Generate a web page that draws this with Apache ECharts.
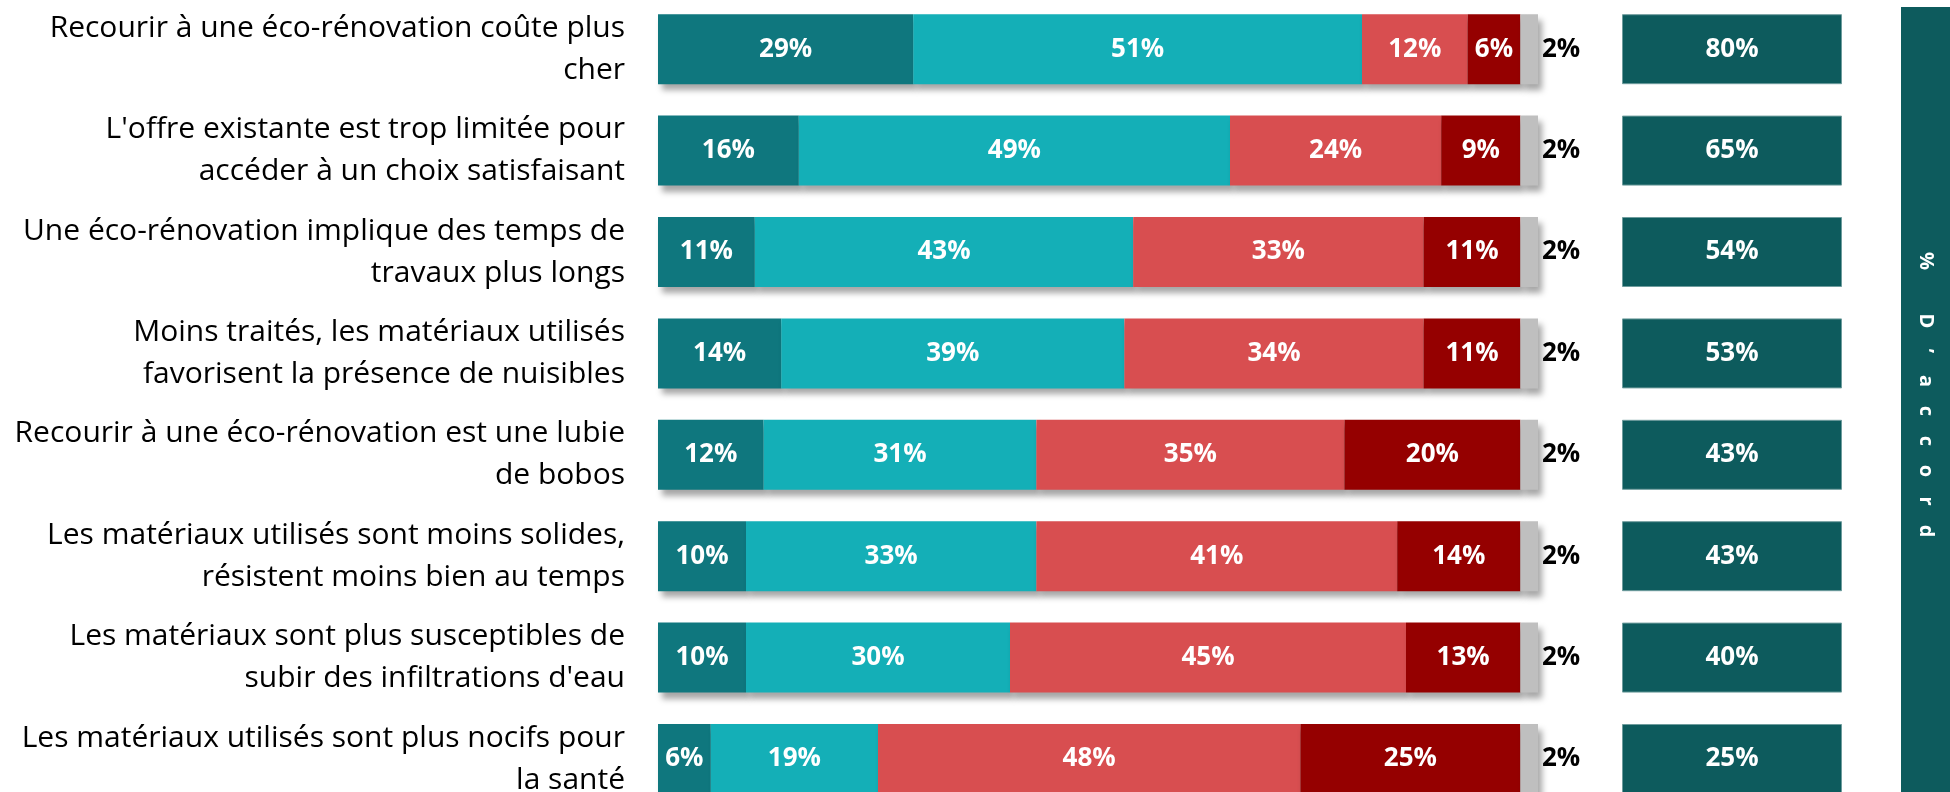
<!DOCTYPE html>
<html>
<head>
<meta charset="utf-8">
<script src="https://cdn.jsdelivr.net/npm/echarts@6/dist/echarts.min.js"></script>
<style>
  html, body { margin: 0; padding: 0; background: #ffffff; }
  #chart { width: 1950px; height: 792px; }
</style>
</head>
<body>
<div id="chart"></div>
<script>
const categories = [
  "Recourir à une éco-rénovation coûte plus\ncher",
  "L'offre existante est trop limitée pour\naccéder à un choix satisfaisant",
  "Une éco-rénovation implique des temps de\ntravaux plus longs",
  "Moins traités, les matériaux utilisés\nfavorisent la présence de nuisibles",
  "Recourir à une éco-rénovation est une lubie\nde bobos",
  "Les matériaux utilisés sont moins solides,\nrésistent moins bien au temps",
  "Les matériaux sont plus susceptibles de\nsubir des infiltrations d'eau",
  "Les matériaux utilisés sont plus nocifs pour\nla santé"
];
const toutAFait   = [29, 16, 11, 14, 12, 10, 10, 6];
const plutot      = [51, 49, 43, 39, 31, 33, 30, 19];
const plutotPas   = [12, 24, 33, 34, 35, 41, 45, 48];
const pasDuTout   = [6, 9, 11, 11, 20, 14, 13, 25];
const nsp         = [2, 2, 2, 2, 2, 2, 2, 2];
const totalAccord = [80, 65, 54, 53, 43, 43, 40, 25];
const bannerText  = "% D’accord";

const colors = ['#0F777E', '#14AFB7', '#D84E50', '#950000', '#BFBFBF'];
const FONT = '"Open Sans", sans-serif';

const shadow = {
  shadowColor: 'rgba(0,0,0,0.35)',
  shadowBlur: 6,
  shadowOffsetX: 4,
  shadowOffsetY: 6
};

function segSeries(name, data, color, inside) {
  return {
    name: name,
    type: 'bar',
    stack: 'total',
    xAxisIndex: 0,
    yAxisIndex: 0,
    barWidth: 70,
    data: data,
    itemStyle: Object.assign({ color: color }, shadow),
    label: inside ? {
      show: true,
      position: 'inside',
      formatter: '{c}%',
      color: '#ffffff',
      fontFamily: FONT,
      fontWeight: 'bold',
      fontSize: 26
    } : {
      show: true,
      position: 'right',
      distance: 4,
      formatter: '{c}%',
      color: '#000000',
      fontFamily: FONT,
      fontWeight: 'bold',
      fontSize: 26
    }
  };
}

const bannerChildren = [];
const chars = Array.from(bannerText);
const pitch = 30;
const startY = 396 - (chars.length - 1) * pitch / 2;
chars.forEach((ch, i) => {
  bannerChildren.push({
    type: 'text',
    x: 1926,
    y: startY + i * pitch,
    rotation: -Math.PI / 2,
    style: {
      text: ch,
      x: 0, y: 0,
      align: 'center', verticalAlign: 'middle',
      textAlign: 'center', textVerticalAlign: 'middle',
      fill: '#ffffff',
      font: 'bold 20px "Open Sans", sans-serif'
    }
  });
});

const option = {
  backgroundColor: '#ffffff',
  animation: false,
  grid: [
    { left: 658, width: 880, top: -1.5, height: 811.2, containLabel: false, outerBoundsMode: 'none' },
    { left: 1622, width: 220, top: -1.5, height: 811.2, containLabel: false, outerBoundsMode: 'none' }
  ],
  xAxis: [
    { type: 'value', gridIndex: 0, min: 0, max: 100, show: false },
    { type: 'value', gridIndex: 1, min: 0, max: 1, show: false }
  ],
  yAxis: [
    {
      type: 'category', gridIndex: 0, data: categories, inverse: true,
      axisLine: { show: false }, axisTick: { show: false }, splitLine: { show: false },
      axisLabel: {
        margin: 33,
        color: '#000000',
        fontFamily: FONT,
        fontSize: 30,
        lineHeight: 42,
        align: 'right'
      }
    },
    {
      type: 'category', gridIndex: 1, data: categories, inverse: true, show: false
    }
  ],
  graphic: [
    {
      type: 'rect',
      shape: { x: 1901, y: 7, width: 60, height: 800 },
      style: { fill: '#0D5B5D' },
      z: 0
    },
    {
      type: 'group',
      children: bannerChildren,
      z: 10
    }
  ],
  series: [
    segSeries('Tout à fait d\'accord', toutAFait, colors[0], true),
    segSeries('Plutôt d\'accord', plutot, colors[1], true),
    segSeries('Plutôt pas d\'accord', plutotPas, colors[2], true),
    segSeries('Pas du tout d\'accord', pasDuTout, colors[3], true),
    segSeries('Ne se prononce pas', nsp, colors[4], false),
    {
      name: '% D\'accord',
      type: 'bar',
      xAxisIndex: 1,
      yAxisIndex: 1,
      barWidth: 70,
      data: totalAccord.map(v => ({ value: 1, total: v })),
      itemStyle: { color: '#0D5B5D', borderColor: '#6E9C9D', borderWidth: 1 },
      label: {
        show: true,
        position: 'inside',
        formatter: p => totalAccord[p.dataIndex] + '%',
        color: '#ffffff',
        fontFamily: FONT,
        fontWeight: 'bold',
        fontSize: 26
      }
    }
  ]
};

const chart = echarts.init(document.getElementById('chart'), null, { renderer: 'canvas' });
chart.setOption(option);
</script>
</body>
</html>
